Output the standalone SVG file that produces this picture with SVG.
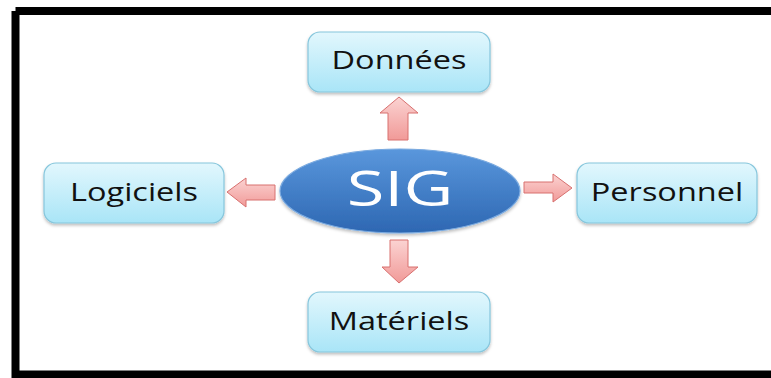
<svg xmlns="http://www.w3.org/2000/svg" width="771" height="378" viewBox="0 0 771 378">
<style>
.box{fill:url(#gBox);stroke:#86c6dc;stroke-width:1.2;filter:url(#sh)}
.lbl{font-family:"Open Sans","Noto Sans",sans-serif;font-size:25px;fill:#111;text-anchor:middle}
.arr{fill:url(#gArr);stroke:#d8706f;stroke-width:1}
</style>
<defs>
<linearGradient id="gBox" x1="0" y1="0" x2="0" y2="1">
<stop offset="0" stop-color="#e2f7fd"/><stop offset="1" stop-color="#a9e5f7"/>
</linearGradient>
<linearGradient id="gArr" x1="0" y1="0" x2="0" y2="1">
<stop offset="0" stop-color="#fbd3d2"/><stop offset="1" stop-color="#f19a98"/>
</linearGradient>
<linearGradient id="gEl" x1="0" y1="0" x2="0" y2="1">
<stop offset="0" stop-color="#5a97dc"/><stop offset="1" stop-color="#2d67b2"/>
</linearGradient>
<filter id="sh" x="-10%" y="-10%" width="120%" height="130%">
<feDropShadow dx="0" dy="2" stdDeviation="1.5" flood-color="#000" flood-opacity="0.25"/>
</filter>
</defs>
<rect width="771" height="378" fill="#fff"/>
<path d="M15.5 11 H775 M15.5 11 V378 M15.5 374.5 H775" fill="none" stroke="#000" stroke-width="8"/>
<g id="connectors">
<polygon class="arr" points="388,140 388,113 380,113 399,97 418,113 408,113 408,140"/>
<polygon class="arr" points="390,240 408,240 408,267 418,267 399,283 382,267 390,267"/>
<polygon class="arr" points="275,185 246,185 246,178 227,192 246,207 246,200 275,200"/>
<polygon class="arr" points="524,182 553,182 553,174 572,188 553,202 553,193 524,193"/>
</g>
<g id="sig">
<ellipse cx="400" cy="191" rx="120" ry="42" fill="url(#gEl)" stroke="#7aaae0" stroke-width="1.2" filter="url(#sh)"/>
<text transform="translate(400,206) scale(1.4,1)" font-family="Open Sans,Noto Sans,sans-serif" font-size="49" fill="#fff" text-anchor="middle">SIG</text>
</g>
<g id="donnees">
<rect class="box" x="308" y="32" width="182" height="60" rx="12"/>
<text class="lbl" transform="translate(399,69) scale(1.3,1)">Données</text>
</g>
<g id="logiciels">
<rect class="box" x="44" y="163" width="180" height="60" rx="12"/>
<text class="lbl" transform="translate(134,201) scale(1.3,1)">Logiciels</text>
</g>
<g id="personnel">
<rect class="box" x="577" y="163" width="180" height="60" rx="12"/>
<text class="lbl" transform="translate(667,201) scale(1.3,1)">Personnel</text>
</g>
<g id="materiels">
<rect class="box" x="308" y="292" width="182" height="60" rx="12"/>
<text class="lbl" transform="translate(399,330) scale(1.3,1)">Matériels</text>
</g>
</svg>
